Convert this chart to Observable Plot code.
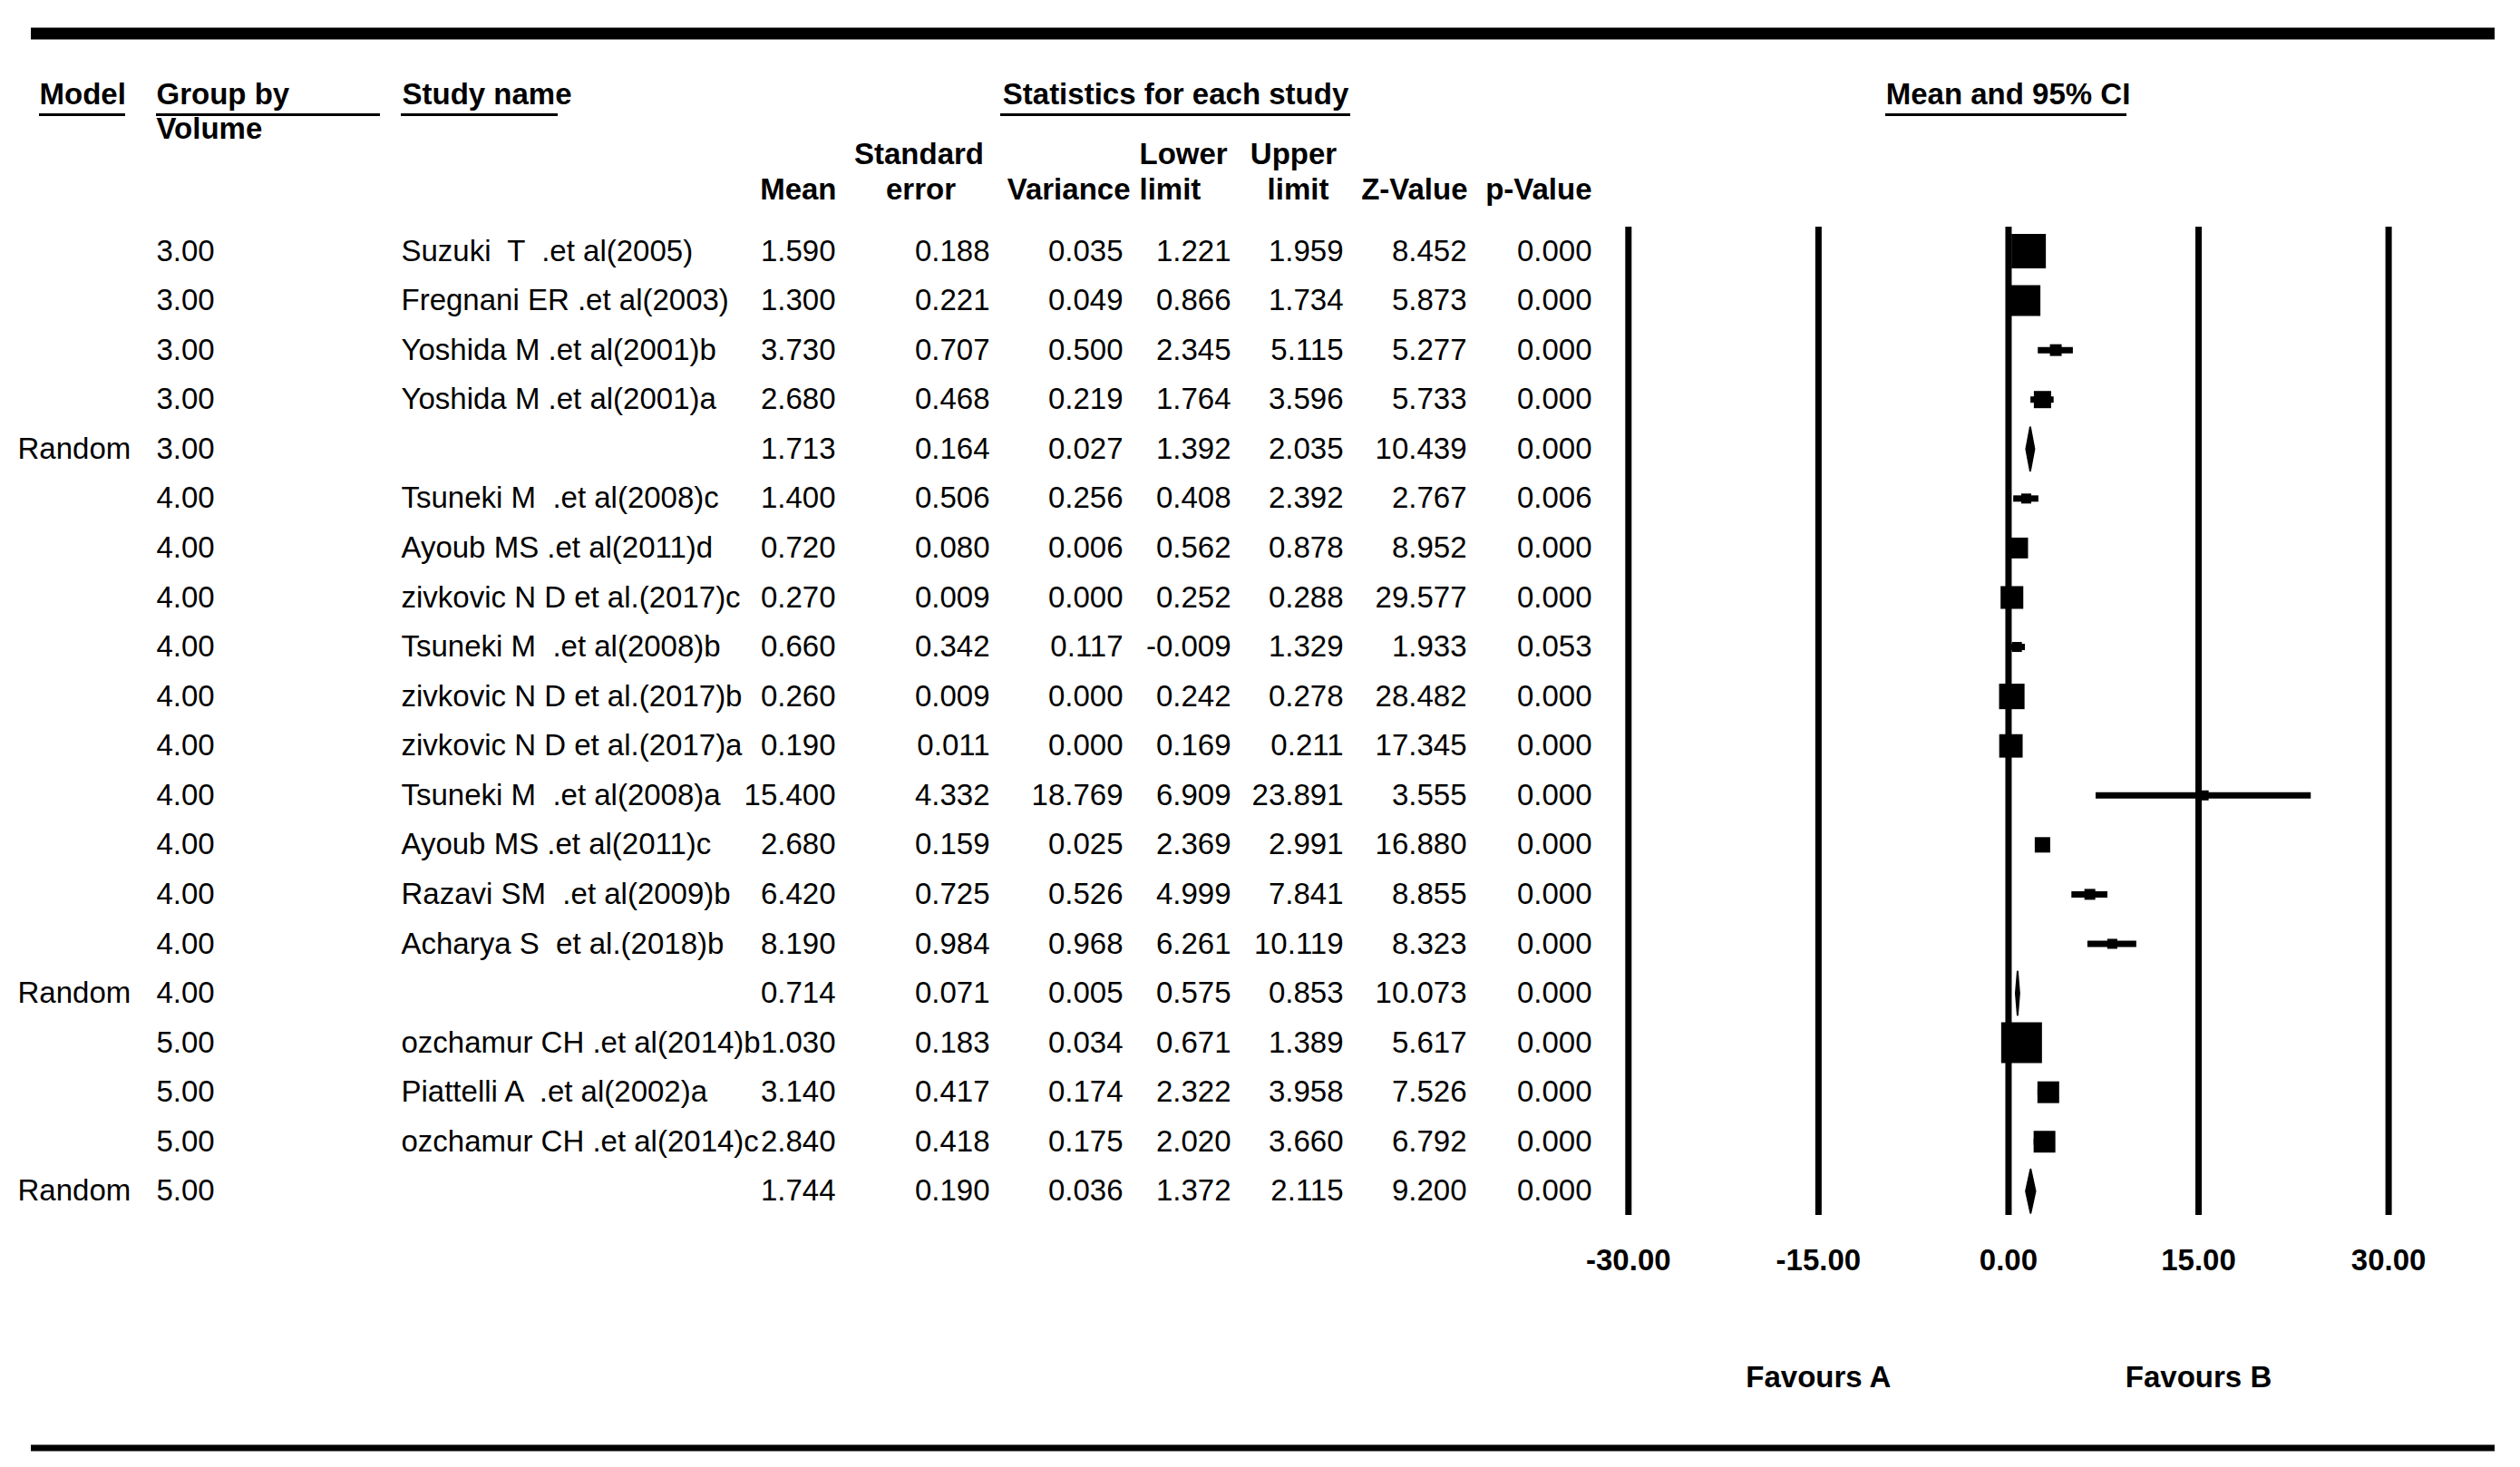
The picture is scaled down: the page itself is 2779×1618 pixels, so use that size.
<!DOCTYPE html>
<html>
<head>
<meta charset="utf-8">
<script src="https://cdn.jsdelivr.net/npm/d3@7"></script>
<script src="https://cdn.jsdelivr.net/npm/@observablehq/plot@0.6"></script>
<style>
  html, body { margin: 0; padding: 0; background: #fff; }
  #chart svg text { white-space: pre; }
</style>
</head>
<body>
<div id="chart"></div>
<script>
// ---------------- data ----------------
const models = ["", "", "", "", "Random", "", "", "", "", "", "", "", "", "", "", "Random", "", "", "", "Random"];
const groups = ["3.00", "3.00", "3.00", "3.00", "3.00",
  "4.00", "4.00", "4.00", "4.00", "4.00", "4.00", "4.00", "4.00", "4.00", "4.00", "4.00",
  "5.00", "5.00", "5.00", "5.00"];
const studies = [
  "Suzuki  T  .et al(2005)",
  "Fregnani ER .et al(2003)",
  "Yoshida M .et al(2001)b",
  "Yoshida M .et al(2001)a",
  "",
  "Tsuneki M  .et al(2008)c",
  "Ayoub MS .et al(2011)d",
  "zivkovic N D et al.(2017)c",
  "Tsuneki M  .et al(2008)b",
  "zivkovic N D et al.(2017)b",
  "zivkovic N D et al.(2017)a",
  "Tsuneki M  .et al(2008)a",
  "Ayoub MS .et al(2011)c",
  "Razavi SM  .et al(2009)b",
  "Acharya S  et al.(2018)b",
  "",
  "ozchamur CH .et al(2014)b",
  "Piattelli A  .et al(2002)a",
  "ozchamur CH .et al(2014)c",
  ""
];
const means     = [1.590, 1.300, 3.730, 2.680, 1.713, 1.400, 0.720, 0.270, 0.660, 0.260, 0.190, 15.400, 2.680, 6.420, 8.190, 0.714, 1.030, 3.140, 2.840, 1.744];
const stdErrors = [0.188, 0.221, 0.707, 0.468, 0.164, 0.506, 0.080, 0.009, 0.342, 0.009, 0.011, 4.332, 0.159, 0.725, 0.984, 0.071, 0.183, 0.417, 0.418, 0.190];
const variances = [0.035, 0.049, 0.500, 0.219, 0.027, 0.256, 0.006, 0.000, 0.117, 0.000, 0.000, 18.769, 0.025, 0.526, 0.968, 0.005, 0.034, 0.174, 0.175, 0.036];
const lowers    = [1.221, 0.866, 2.345, 1.764, 1.392, 0.408, 0.562, 0.252, -0.009, 0.242, 0.169, 6.909, 2.369, 4.999, 6.261, 0.575, 0.671, 2.322, 2.020, 1.372];
const uppers    = [1.959, 1.734, 5.115, 3.596, 2.035, 2.392, 0.878, 0.288, 1.329, 0.278, 0.211, 23.891, 2.991, 7.841, 10.119, 0.853, 1.389, 3.958, 3.660, 2.115];
const zValues   = [8.452, 5.873, 5.277, 5.733, 10.439, 2.767, 8.952, 29.577, 1.933, 28.482, 17.345, 3.555, 16.880, 8.855, 8.323, 10.073, 5.617, 7.526, 6.792, 9.200];
const pValues   = [0.000, 0.000, 0.000, 0.000, 0.000, 0.006, 0.000, 0.000, 0.053, 0.000, 0.000, 0.000, 0.000, 0.000, 0.000, 0.000, 0.000, 0.000, 0.000, 0.000];
// relative box weight (box area); null for summary rows
const boxWeights = [71, 57, 8.3, 17.8, null, 6, 26, 31, 6, 39, 33, 6, 14.3, 7.1, 6, null, 100, 28.4, 28.4, null];
const axisTicks = [-30, -15, 0, 15, 30];
const favours = [{x: -15, label: "Favours A"}, {x: 15, label: "Favours B"}];

// ---------------- layout (pixels) ----------------
const W = 2779, H = 1618;
const X_DOMAIN = [-30, 30], X_RANGE = [1795.3, 2633.6];
const Y_RANGE = [276.5, 1313.3];
const FONT = 33;
const col = {model: 19, group: 172, study: 442, mean: 921, se: 1091, variance: 1238, lower: 1357, upper: 1481, z: 1617, p: 1755};

const n = means.length;
const xs = d3.scaleLinear(X_DOMAIN, X_RANGE);
const ys = d3.scaleLinear([0, n - 1], Y_RANGE);
const px = v => xs.invert(v);
const py = v => ys.invert(v);

const rows = d3.range(n).map(i => ({
  row: i, model: models[i], group: groups[i], study: studies[i],
  mean: means[i], se: stdErrors[i], variance: variances[i],
  lower: lowers[i], upper: uppers[i], z: zValues[i], p: pValues[i],
  weight: boxWeights[i]
}));
const studyRows = rows.filter(d => d.model !== "Random");
const summaryRows = rows.filter(d => d.model === "Random");
const DIAMOND_HALF = 0.44;
const diamondPts = summaryRows.flatMap(d => [
  {row: d.row, x: d.lower, y: d.row},
  {row: d.row, x: d.mean, y: d.row - DIAMOND_HALF},
  {row: d.row, x: d.upper, y: d.row},
  {row: d.row, x: d.mean, y: d.row + DIAMOND_HALF},
  {row: d.row, x: d.lower, y: d.row}
]);

const f3 = v => v.toFixed(3);
const f2 = v => v.toFixed(2);

const headers = [
  {t: "Model", x: 43, y: 104, a: "start"},
  {t: "Group by", x: 172, y: 104, a: "start"},
  {t: "Volume", x: 172, y: 142, a: "start"},
  {t: "Study name", x: 443, y: 104, a: "start"},
  {t: "Statistics for each study", x: 1296, y: 104, a: "middle"},
  {t: "Mean and 95% CI", x: 2214, y: 104, a: "middle"},
  {t: "Mean", x: 922, y: 209, a: "end"},
  {t: "Standard", x: 1013, y: 170, a: "middle"},
  {t: "error", x: 1015, y: 209, a: "middle"},
  {t: "Variance", x: 1246, y: 209, a: "end"},
  {t: "Lower", x: 1256, y: 170, a: "start"},
  {t: "limit", x: 1256, y: 209, a: "start"},
  {t: "Upper", x: 1426, y: 170, a: "middle"},
  {t: "limit", x: 1431, y: 209, a: "middle"},
  {t: "Z-Value", x: 1618, y: 209, a: "end"},
  {t: "p-Value", x: 1755, y: 209, a: "end"}
];
const underlines = [
  {x1: 43, x2: 138}, {x1: 172, x2: 419}, {x1: 442, x2: 615},
  {x1: 1103, x2: 1489}, {x1: 2079, x2: 2345}
];
const borderRules = [
  {y: 36.5, w: 13}, {y: 1596.5, w: 7}
];

const headerMark = a => Plot.text(headers.filter(h => h.a === a), {
  x: d => px(d.x), y: d => py(d.y), text: "t", textAnchor: a,
  fontWeight: "bold", fontSize: FONT, fill: "black"
});
const colText = (key, fmt, anchor) => Plot.text(rows, {
  x: () => px(col[key]), y: "row",
  text: d => fmt(d), textAnchor: anchor, fontSize: FONT, fill: "black"
});

const chart = Plot.plot({
  width: W, height: H,
  marginTop: 0, marginRight: 0, marginBottom: 0, marginLeft: 0,
  x: {domain: X_DOMAIN, range: X_RANGE, axis: null},
  y: {domain: [0, n - 1], range: Y_RANGE, axis: null},
  r: {type: "sqrt", domain: [0, 100], range: [0, 45 / Math.sqrt(Math.PI)]},
  style: {fontFamily: "'Liberation Sans', Arial, sans-serif", fontSize: FONT + "px", background: "white", color: "black", overflow: "visible"},
  marks: [
    // outer rules
    ...borderRules.map(b => Plot.ruleY([b], {y: d => py(d.y), x1: () => px(34), x2: () => px(2751), stroke: "black", strokeWidth: b.w})),
    // headers
    headerMark("start"), headerMark("middle"), headerMark("end"),
    Plot.ruleY(underlines, {y: () => py(126), x1: d => px(d.x1), x2: d => px(d.x2), stroke: "black", strokeWidth: 3}),
    // forest plot reference lines
    Plot.ruleX(axisTicks, {x: d => d, y1: () => py(250), y2: () => py(1340), stroke: "black", strokeWidth: 7}),
    // confidence intervals
    Plot.ruleY(studyRows, {y: "row", x1: "lower", x2: "upper", stroke: "black", strokeWidth: 7}),
    // study boxes
    Plot.dot(studyRows, {x: "mean", y: "row", r: "weight", symbol: "square", fill: "black", stroke: "none"}),
    // summary diamonds
    Plot.line(diamondPts, {x: "x", y: "y", z: "row", fill: "black", stroke: "black", strokeWidth: 2}),
    // table columns
    colText("model", d => d.model, "start"),
    colText("group", d => d.group, "start"),
    colText("study", d => d.study, "start"),
    colText("mean", d => f3(d.mean), "end"),
    colText("se", d => f3(d.se), "end"),
    colText("variance", d => f3(d.variance), "end"),
    colText("lower", d => f3(d.lower), "end"),
    colText("upper", d => f3(d.upper), "end"),
    colText("z", d => f3(d.z), "end"),
    colText("p", d => f3(d.p), "end"),
    // axis tick labels
    Plot.text(axisTicks, {x: d => d, y: () => py(1389.5), text: d => f2(d), fontWeight: "bold", fontSize: FONT, fill: "black"}),
    // favours labels
    Plot.text(favours, {x: "x", y: () => py(1519), text: "label", fontWeight: "bold", fontSize: FONT, fill: "black"})
  ]
});
document.getElementById("chart").append(chart);
</script>
</body>
</html>
